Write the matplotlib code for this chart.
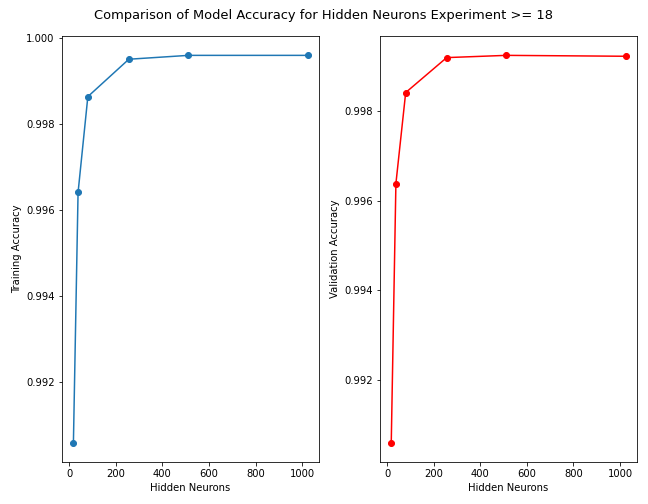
import matplotlib
matplotlib.use('Agg')
import matplotlib.pyplot as plt

hidden_neurons = [18, 38, 80, 256, 512, 1024]
train_acc = [0.99058, 0.99641, 0.99864, 0.99951, 0.99960, 0.99960]
val_acc = [0.99059, 0.99638, 0.99841, 0.99919, 0.99924, 0.99922]

fig, (ax1, ax2) = plt.subplots(1, 2, figsize=(9, 7), dpi=72)
fig.suptitle('Comparison of Model Accuracy for Hidden Neurons Experiment >= 18',
             fontsize=13, y=0.982)

ax1.plot(hidden_neurons, train_acc, marker='o')
ax1.set_xlabel('Hidden Neurons')
ax1.set_ylabel('Training Accuracy')

ax2.plot(hidden_neurons, val_acc, marker='o', color='red')
ax2.set_xlabel('Hidden Neurons')
ax2.set_ylabel('Validation Accuracy')

fig.subplots_adjust(left=0.0952, right=0.9835, top=0.9286, bottom=0.0827, wspace=0.233)
fig.savefig('out.png')
